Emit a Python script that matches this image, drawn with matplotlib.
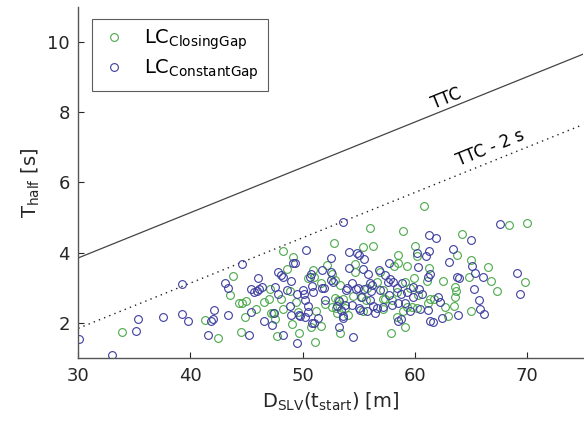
import numpy as np
import matplotlib
matplotlib.use('Agg')
import matplotlib.pyplot as plt

# lane changes into a closing gap: distance to SLV at start [m], T_half [s]
closing_d = [33.87, 41.33, 42.44, 43.80, 43.56, 44.31, 44.60, 44.93, 44.90, 45.83,
             44.49, 46.57, 47.04, 47.10, 47.16, 47.40, 47.57, 47.73, 48.08, 48.29,
             48.29, 48.64, 48.89, 49.06, 49.18, 49.39, 49.71, 49.63,
             52.78, 55.42, 56.00, 52.16, 52.60, 50.91, 50.46, 51.05, 51.62, 52.90,
             54.71, 54.66, 53.19, 53.64, 54.48, 55.28, 55.66, 52.03, 52.66, 53.79,
             54.09, 53.05, 51.18, 50.73, 51.68, 53.35, 51.14,
             60.84, 58.99, 64.20, 68.45, 70.00, 60.06, 56.32, 58.55, 60.24, 63.76,
             65.06, 66.55, 69.85, 67.38, 66.84, 64.88, 62.51, 63.58, 63.69, 63.60,
             63.51, 65.00, 62.69, 62.95, 61.37, 61.76, 61.26, 61.13, 59.95, 60.30,
             59.12, 59.17, 57.92, 58.40, 59.30, 59.80, 60.24, 61.22, 57.98, 57.15,
             57.21, 58.19, 58.49, 59.30, 56.91, 56.62,
             55.37, 57.21, 57.36, 58.94, 52.99, 52.90, 55.73, 53.35, 59.59, 58.40]
closing_t = [1.75, 2.09, 1.58, 3.34, 2.81, 2.59, 2.59, 2.64, 2.17, 2.41,
             1.75, 2.61, 2.70, 2.98, 2.30, 2.30, 2.13, 1.64, 2.70, 4.05,
             2.41, 3.55, 2.93, 1.99, 3.88, 2.60, 1.72, 2.33,
             4.27, 4.18, 4.70, 3.65, 3.40, 3.51, 3.28, 3.32, 3.15, 3.22,
             3.68, 3.45, 2.66, 2.68, 2.78, 2.74, 2.66, 2.55, 2.45, 2.43,
             2.24, 2.28, 2.36, 1.90, 1.92, 1.73, 1.46,
             5.32, 4.63, 4.53, 4.80, 4.86, 4.19, 4.20, 3.94, 3.91, 3.93,
             3.80, 3.60, 3.17, 2.93, 3.21, 3.32, 3.21, 3.02, 2.93, 2.74,
             2.49, 2.34, 2.45, 2.21, 2.68, 2.68, 3.57, 3.21, 3.30, 2.80,
             3.17, 1.89, 1.73, 2.19, 2.45, 2.47, 2.43, 2.59, 2.67, 2.70,
             2.95, 3.63, 3.70, 3.63, 3.47, 3.16,
             2.35, 2.41, 2.69, 2.35, 2.43, 2.71, 2.99, 3.09, 2.99, 2.90]

# lane changes into a constant gap
constant_d = [30.06, 33.03, 35.12, 35.30, 37.58, 39.22, 39.81, 39.22, 41.60, 41.81,
              42.04, 42.13, 43.11, 43.33, 43.38, 44.63, 45.23, 45.38, 45.38, 45.67,
              45.91, 46.06, 46.12, 46.36, 46.57, 47.28, 47.48, 47.57, 47.84, 47.81,
              48.08, 48.23, 48.29, 48.64, 48.89, 48.95, 49.00, 49.18, 49.33, 49.48,
              49.48, 49.69,
              53.61, 50.31, 52.54, 54.15, 54.86, 55.01, 55.49, 54.17, 51.71, 52.57,
              55.40, 55.84, 52.54, 51.92, 50.76, 50.64, 50.82, 50.02, 50.94, 50.11,
              50.22, 51.71, 52.01, 50.46, 50.52, 50.25, 49.80, 51.38, 50.82, 51.03,
              53.05, 53.41, 53.61, 53.85, 54.39, 54.75, 54.92, 55.51, 55.22, 54.53,
              53.28, 55.01, 54.39, 55.73,
              67.59, 65.06, 61.26, 61.91, 63.43, 63.10, 65.15, 65.41, 66.07, 69.11,
              69.40, 63.76, 63.99, 65.27, 65.77, 66.22, 65.83, 63.84, 62.42, 62.09,
              61.37, 61.61, 61.26, 61.04, 60.24, 60.33, 61.37, 61.22, 60.39, 60.63,
              59.88, 59.35, 59.83, 59.14, 58.52, 58.76, 58.49, 59.59, 60.48, 61.22,
              62.27, 58.10, 57.81, 58.40, 57.69, 58.81, 57.21, 56.32, 56.44, 57.69,
              56.82, 57.36, 56.02, 56.14, 56.02,
              53.59, 53.28, 53.79, 55.13, 56.62, 57.96, 53.94, 56.17, 56.91, 57.65,
              52.75, 58.85]
constant_t = [1.55, 1.11, 1.79, 2.13, 2.17, 2.26, 2.07, 3.12, 1.67, 2.06,
              2.13, 2.38, 3.15, 3.00, 2.24, 3.68, 1.66, 2.32, 2.97, 2.90,
              2.92, 3.29, 2.97, 3.04, 2.07, 1.95, 2.29, 3.02, 2.83, 3.46,
              3.37, 3.31, 1.68, 2.95, 2.49, 3.21, 2.23, 3.70, 3.72, 1.45,
              2.82, 2.23,
              4.87, 4.08, 3.85, 4.02, 3.99, 3.93, 3.82, 3.56, 3.52, 3.46,
              3.54, 3.40, 3.22, 3.01, 3.40, 3.31, 3.07, 2.95, 2.89, 2.82,
              2.67, 3.00, 2.66, 2.49, 2.33, 2.19, 2.22, 2.14, 2.00, 2.02,
              2.50, 2.37, 2.21, 2.95, 3.14, 2.97, 2.99, 2.97, 2.76, 1.62,
              1.90, 2.43, 2.52, 2.36,
              4.82, 4.36, 4.52, 4.42, 4.10, 3.73, 3.63, 3.43, 3.31, 3.42,
              2.84, 3.32, 3.30, 2.97, 2.66, 2.26, 2.40, 2.23, 2.14, 2.74,
              2.07, 2.03, 4.06, 3.91, 3.99, 3.61, 3.40, 3.32, 2.97, 2.82,
              3.02, 2.89, 2.74, 2.59, 2.57, 2.13, 2.07, 2.35, 2.41, 2.38,
              2.61, 3.17, 3.26, 2.99, 2.80, 2.82, 2.45, 2.49, 2.28, 3.70,
              3.51, 3.37, 3.15, 2.93, 2.66,
              2.14, 2.64, 2.52, 2.38, 2.43, 2.52, 2.99, 3.09, 2.95, 3.18,
              3.18, 3.14]

v_ego = 28 / 3.6      # approach speed [m/s]
ttc_margin = 2.0      # [s]

green = '#4aa84a'
blue = '#3d3d9f'
axcol = '#262626'

plt.rcParams['font.family'] = 'DejaVu Sans'
plt.rcParams['mathtext.fontset'] = 'dejavusans'

fig = plt.figure(figsize=(5.84, 4.28), dpi=100)
ax = fig.add_axes([0.134, 0.1624, 0.864, 0.8224])

d_line = np.array([30, 75])
ax.plot(d_line, d_line / v_ego, color='#444444', lw=0.9)
ax.plot(d_line, d_line / v_ego - ttc_margin, color='#222222', lw=1.0, ls=(0, (1, 3)))

ax.plot(closing_d, closing_t, 'o', ms=5.6, mfc='none', mec=green, mew=0.8,
        label=r'LC$_{\mathrm{ClosingGap}}$')
ax.plot(constant_d, constant_t, 'o', ms=5.6, mfc='none', mec=blue, mew=0.8,
        label=r'LC$_{\mathrm{ConstantGap}}$')

# line labels, rotated to follow the slope on screen
ang = np.degrees(np.arctan((1 / v_ego) * (0.8224 * 428 / 10) / (0.864 * 584 / 45)))
ax.text(62.8, 62.8 / v_ego + 0.32, 'TTC', rotation=ang, ha='center', va='center',
        fontsize=12, color='black', rotation_mode='anchor')
ax.text(66.8, 66.8 / v_ego - ttc_margin + 0.38, 'TTC - 2 s', rotation=ang, ha='center',
        va='center', fontsize=12, color='black', rotation_mode='anchor')

ax.set_xlim(30, 75)
ax.set_ylim(1, 11)
ax.set_xticks([30, 40, 50, 60, 70])
ax.set_yticks([2, 4, 6, 8, 10])
ax.tick_params(direction='in', length=4, width=0.8, colors=axcol, labelsize=13,
               labelcolor=axcol, pad=6)
for s in ['top', 'right']:
    ax.spines[s].set_visible(False)
for s in ['left', 'bottom']:
    ax.spines[s].set_color('#555555')
    ax.spines[s].set_linewidth(1.0)

ax.set_xlabel(r'D$_{\mathrm{SLV}}$(t$_{\mathrm{start}}$) [m]', fontsize=14, color=axcol)
ax.set_ylabel(r'T$_{\mathrm{half}}$ [s]', fontsize=14, color=axcol)

leg = ax.legend(loc='upper left', bbox_to_anchor=(0.028, 0.964), fontsize=14,
                frameon=True, fancybox=False, edgecolor='#333333',
                handletextpad=0.9, borderpad=0.45, labelspacing=0.25, handlelength=1.3,
                borderaxespad=0)
leg.get_frame().set_linewidth(0.8)

fig.savefig('out.png', dpi=100)
